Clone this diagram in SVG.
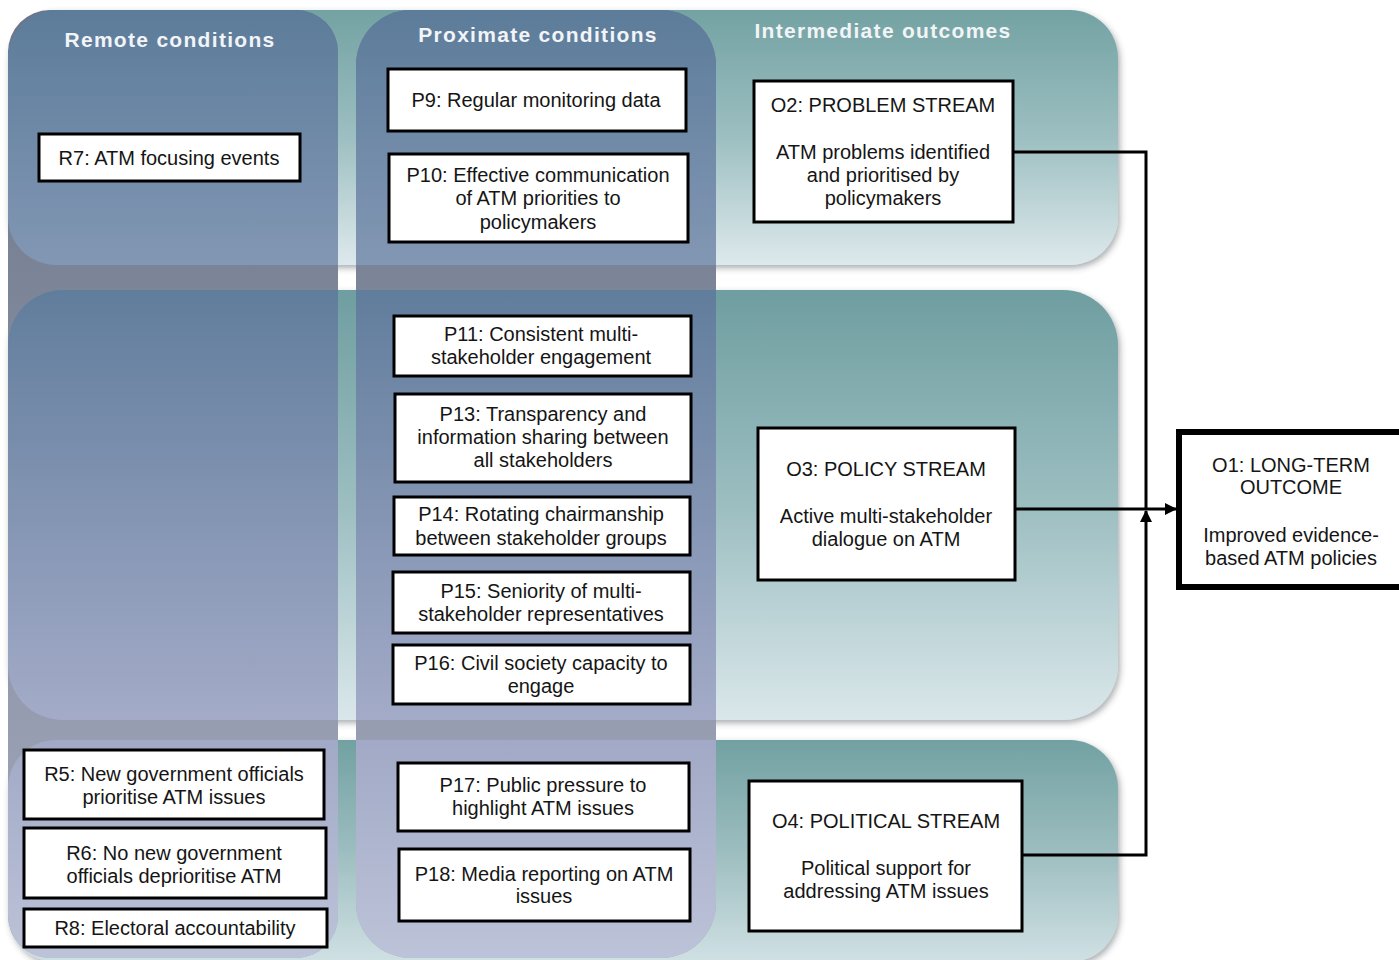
<svg xmlns="http://www.w3.org/2000/svg" width="1399" height="960" viewBox="0 0 1399 960">
<style>
.box{fill:#ffffff;stroke:#000000;stroke-width:3}
.t{font-family:"Liberation Sans",Arial,sans-serif;font-size:20px;fill:#151515;text-anchor:middle}
.h{font-family:"Liberation Sans",Arial,sans-serif;font-size:21px;font-weight:bold;fill:#f2f4f7;text-anchor:middle;letter-spacing:1.3px}
.conn{fill:none;stroke:#000000;stroke-width:3}
</style>
<defs>
<linearGradient id="rowTop" gradientUnits="userSpaceOnUse" x1="0" y1="10" x2="0" y2="265"><stop offset="0" stop-color="#73a2a3"/><stop offset="0.5" stop-color="#9dbfc1"/><stop offset="1" stop-color="#dde9ec"/></linearGradient>
<linearGradient id="rowMid" gradientUnits="userSpaceOnUse" x1="0" y1="290" x2="0" y2="720"><stop offset="0" stop-color="#6f9ea0"/><stop offset="0.5" stop-color="#9cbec1"/><stop offset="1" stop-color="#dae7ea"/></linearGradient>
<linearGradient id="rowBot" gradientUnits="userSpaceOnUse" x1="0" y1="740" x2="0" y2="960"><stop offset="0" stop-color="#72a1a2"/><stop offset="0.5" stop-color="#9cbdbf"/><stop offset="1" stop-color="#cfe0e3"/></linearGradient>
<linearGradient id="colBase" gradientUnits="userSpaceOnUse" x1="0" y1="10" x2="0" y2="960"><stop offset="0" stop-color="#6c7588"/><stop offset="1" stop-color="#a4aabe"/></linearGradient>
<linearGradient id="colTop" gradientUnits="userSpaceOnUse" x1="0" y1="10" x2="0" y2="265"><stop offset="0" stop-color="#5c7c9a"/><stop offset="1" stop-color="#8297b4"/></linearGradient>
<linearGradient id="colMid" gradientUnits="userSpaceOnUse" x1="0" y1="290" x2="0" y2="720"><stop offset="0" stop-color="#617d9c"/><stop offset="1" stop-color="#a3abc8"/></linearGradient>
<linearGradient id="colBot" gradientUnits="userSpaceOnUse" x1="0" y1="740" x2="0" y2="960"><stop offset="0" stop-color="#a1a9c6"/><stop offset="1" stop-color="#bdc3d8"/></linearGradient>
<clipPath id="clipTop"><rect x="8" y="10" width="1110" height="255" rx="48"/></clipPath>
<clipPath id="clipMid"><rect x="8" y="290" width="1110" height="430" rx="55"/></clipPath>
<clipPath id="clipBot"><rect x="8" y="740" width="1110" height="222" rx="48"/></clipPath>
<filter id="sh" x="-5%" y="-5%" width="110%" height="115%"><feDropShadow dx="2" dy="3" stdDeviation="3" flood-color="#404850" flood-opacity="0.45"/></filter>
<marker id="arr" markerWidth="12" markerHeight="12" refX="11" refY="6" orient="auto" markerUnits="userSpaceOnUse"><path d="M0,0 L12,6 L0,12 Z" fill="#000000"/></marker>
</defs>
<rect x="0" y="0" width="1399" height="960" fill="#ffffff"/>
<g id="rows">
<rect x="8" y="10" width="1110" height="255" rx="48" fill="url(#rowTop)" filter="url(#sh)"/>
<rect x="8" y="290" width="1110" height="430" rx="55" fill="url(#rowMid)" filter="url(#sh)"/>
<rect x="8" y="740" width="1110" height="222" rx="48" fill="url(#rowBot)" filter="url(#sh)"/>
</g>
<g id="columns">
<rect x="8" y="10" width="330" height="948" rx="42" fill="url(#colBase)"/>
<rect x="356" y="10" width="360" height="948" rx="55" fill="url(#colBase)"/>
<g clip-path="url(#clipTop)">
<rect x="8" y="10" width="330" height="948" rx="42" fill="url(#colTop)"/>
<rect x="356" y="10" width="360" height="948" rx="55" fill="url(#colTop)"/>
</g>
<g clip-path="url(#clipMid)">
<rect x="8" y="10" width="330" height="948" rx="42" fill="url(#colMid)"/>
<rect x="356" y="10" width="360" height="948" rx="55" fill="url(#colMid)"/>
</g>
<g clip-path="url(#clipBot)">
<rect x="8" y="10" width="330" height="948" rx="42" fill="url(#colBot)"/>
<rect x="356" y="10" width="360" height="948" rx="55" fill="url(#colBot)"/>
</g>
</g>
<g id="headers">
<text class="h" x="170" y="47">Remote conditions</text>
<text class="h" x="538" y="42">Proximate conditions</text>
<text class="h" x="883" y="38">Intermediate outcomes</text>
</g>
<g id="connectors">
<path class="conn" d="M1013,152 H1146 V510"/>
<path class="conn" d="M1015,509 H1176" marker-end="url(#arr)"/>
<path class="conn" d="M1022,855 H1146 V511" marker-end="url(#arr)"/>
</g>
<g id="R7"><rect class="box" x="39" y="134" width="261" height="47"/><text class="t" x="169" y="165">R7: ATM focusing events</text></g>
<g id="P9"><rect class="box" x="388" y="69" width="298" height="62"/><text class="t" x="536" y="107">P9: Regular monitoring data</text></g>
<g id="P10"><rect class="box" x="389" y="154" width="299" height="88"/><text class="t" x="538" y="182">P10: Effective communication</text><text class="t" x="538" y="205">of ATM priorities to</text><text class="t" x="538" y="229">policymakers</text></g>
<g id="O2"><rect class="box" x="754" y="81" width="259" height="141"/><text class="t" x="883" y="112">O2: PROBLEM STREAM</text><text class="t" x="883" y="159">ATM problems identified</text><text class="t" x="883" y="182">and prioritised by</text><text class="t" x="883" y="205">policymakers</text></g>
<g id="P11"><rect class="box" x="394" y="316" width="297" height="60"/><text class="t" x="541" y="341">P11: Consistent multi-</text><text class="t" x="541" y="364">stakeholder engagement</text></g>
<g id="P13"><rect class="box" x="395" y="394" width="296" height="88"/><text class="t" x="543" y="421">P13: Transparency and</text><text class="t" x="543" y="444">information sharing between</text><text class="t" x="543" y="467">all stakeholders</text></g>
<g id="P14"><rect class="box" x="394" y="497" width="296" height="58"/><text class="t" x="541" y="521">P14: Rotating chairmanship</text><text class="t" x="541" y="545">between stakeholder groups</text></g>
<g id="P15"><rect class="box" x="393" y="572" width="297" height="61"/><text class="t" x="541" y="598">P15: Seniority of multi-</text><text class="t" x="541" y="621">stakeholder representatives</text></g>
<g id="P16"><rect class="box" x="393" y="645" width="297" height="59"/><text class="t" x="541" y="670">P16: Civil society capacity to</text><text class="t" x="541" y="693">engage</text></g>
<g id="O3"><rect class="box" x="758" y="428" width="257" height="152"/><text class="t" x="886" y="476">O3: POLICY STREAM</text><text class="t" x="886" y="523">Active multi-stakeholder</text><text class="t" x="886" y="546">dialogue on ATM</text></g>
<g id="O1"><rect x="1179" y="432" width="230" height="155" fill="#ffffff" stroke="#000000" stroke-width="6"/><text class="t" x="1291" y="472">O1: LONG-TERM</text><text class="t" x="1291" y="494">OUTCOME</text><text class="t" x="1291" y="542">Improved evidence-</text><text class="t" x="1291" y="565">based ATM policies</text></g>
<g id="R5"><rect class="box" x="24" y="750" width="300" height="69"/><text class="t" x="174" y="781">R5: New government officials</text><text class="t" x="174" y="804">prioritise ATM issues</text></g>
<g id="R6"><rect class="box" x="24" y="828" width="302" height="70"/><text class="t" x="174" y="860">R6: No new government</text><text class="t" x="174" y="883">officials deprioritise ATM</text></g>
<g id="R8"><rect class="box" x="24" y="909" width="303" height="38"/><text class="t" x="175" y="935">R8: Electoral accountability</text></g>
<g id="P17"><rect class="box" x="398" y="763" width="291" height="68"/><text class="t" x="543" y="792">P17: Public pressure to</text><text class="t" x="543" y="815">highlight ATM issues</text></g>
<g id="P18"><rect class="box" x="399" y="849" width="291" height="72"/><text class="t" x="544" y="881">P18: Media reporting on ATM</text><text class="t" x="544" y="903">issues</text></g>
<g id="O4"><rect class="box" x="749" y="781" width="273" height="150"/><text class="t" x="886" y="828">O4: POLITICAL STREAM</text><text class="t" x="886" y="875">Political support for</text><text class="t" x="886" y="898">addressing ATM issues</text></g>
</svg>
